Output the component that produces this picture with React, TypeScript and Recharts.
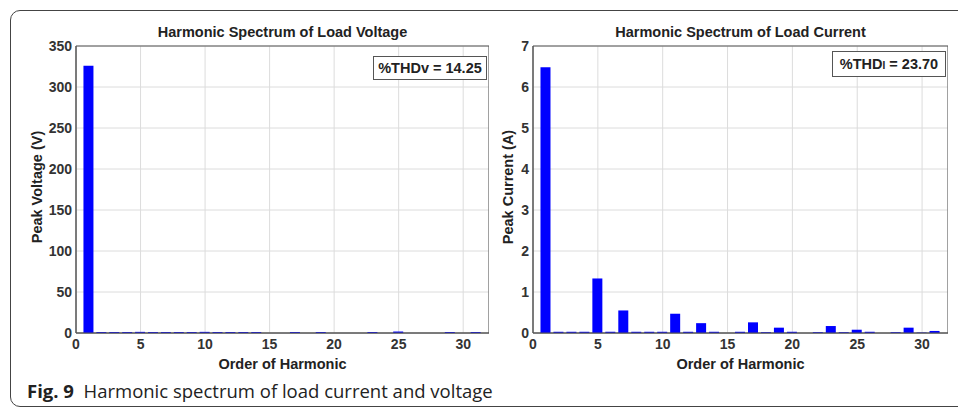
import React from "react";
import {
  BarChart,
  Bar,
  XAxis,
  YAxis,
  CartesianGrid,
  ReferenceArea,
} from "recharts";

// harmonic order 1..31
const harmonicOrders = [
  1, 2, 3, 4, 5, 6, 7, 8, 9, 10, 11, 12, 13, 14, 15, 16,
  17, 18, 19, 20, 21, 22, 23, 24, 25, 26, 27, 28, 29, 30, 31,
];

const voltagePeaks = [
  326, 1.2, 1.2, 1.2, 1.4, 1.2, 1.2, 1.2, 1.2, 1.4, 1.2, 1.2, 1.2, 1.2, 0, 0,
  1.2, 0, 1.2, 0, 0, 0, 1.2, 0, 1.8, 0, 0, 0, 1.2, 0, 1.2,
];

const currentPeaks = [
  6.48, 0.03, 0.03, 0.03, 1.33, 0.03, 0.55, 0.03, 0.03, 0.03, 0.47, 0.03, 0.24, 0.03, 0, 0.03,
  0.26, 0.02, 0.13, 0.03, 0, 0.02, 0.17, 0.02, 0.08, 0.03, 0, 0.02, 0.13, 0.01, 0.05,
];

const xTicks = [0, 5, 10, 15, 20, 25, 30];
const voltageTicks = [0, 50, 100, 150, 200, 250, 300, 350];
const currentTicks = [0, 1, 2, 3, 4, 5, 6, 7];

const voltageData = harmonicOrders.map((h, i) => ({ h, v: voltagePeaks[i] }));
const currentData = harmonicOrders.map((h, i) => ({ h, v: currentPeaks[i] }));

const FONT = "'Liberation Sans', Arial, sans-serif";
const tickStyle = { fontSize: 14, fill: "#333", fontWeight: 700, fontFamily: FONT };
const labelStyle: React.CSSProperties = {
  position: "absolute",
  fontFamily: FONT,
  fontWeight: 700,
  fontSize: 14.5,
  color: "#222",
  whiteSpace: "nowrap",
  textAlign: "center",
};

function Spectrum({
  data,
  ticks,
  yMax,
  left,
  width,
  axisWidth,
  yLabelX,
  title,
  yLabel,
  thd,
  boxStyle,
}: {
  data: { h: number; v: number }[];
  ticks: number[];
  yMax: number;
  left: number;
  width: number;
  axisWidth: number;
  yLabelX: number;
  title: string;
  yLabel: string;
  thd: React.ReactNode;
  boxStyle: React.CSSProperties;
}) {
  const plotW = width - axisWidth;
  return (
    <div style={{ position: "absolute", left, top: 0, width, height: 380 }}>
      <BarChart
        width={width}
        height={380}
        data={data}
        margin={{ top: 46, right: 0, left: 0, bottom: 17 }}
        barGap={0}
      >
        <CartesianGrid stroke="#dcdcdc" />
        <XAxis
          dataKey="h"
          type="number"
          domain={[0, 32]}
          ticks={xTicks}
          allowDataOverflow
          height={30}
          tick={tickStyle}
          tickLine={false}
          tickSize={4}
          tickMargin={2}
          stroke="#555"
        />
        <YAxis
          type="number"
          domain={[0, yMax]}
          ticks={ticks}
          width={axisWidth}
          tick={tickStyle}
          tickLine={false}
          tickSize={3}
          tickMargin={1}
          stroke="#555"
        />
        <ReferenceArea x1={0} x2={32} y1={0} y2={yMax} fill="none" stroke="#555" strokeOpacity={1} />
        <Bar dataKey="v" fill="#0000ff" barSize={10} isAnimationActive={false} />
      </BarChart>
      <div style={{ ...labelStyle, left: axisWidth, width: plotW, top: 24 }}>{title}</div>
      <div style={{ ...labelStyle, left: axisWidth, width: plotW, top: 356 }}>Order of Harmonic</div>
      <div
        style={{
          ...labelStyle,
          left: yLabelX - 100,
          top: 188 - 9,
          width: 200,
          transform: "rotate(-90deg)",
        }}
      >
        {yLabel}
      </div>
      <div
        style={{
          position: "absolute",
          border: "1px solid #555",
          background: "#fff",
          fontFamily: FONT,
          fontWeight: 700,
          fontSize: 14.5,
          color: "#222",
          boxSizing: "border-box",
          display: "flex",
          alignItems: "center",
          justifyContent: "center",
          whiteSpace: "nowrap",
          ...boxStyle,
        }}
      >
        {thd}
      </div>
    </div>
  );
}

export default function App() {
  return (
    <div
      style={{
        position: "absolute",
        left: 0,
        top: 0,
        width: 958,
        height: 410,
        background: "#fff",
        overflow: "hidden",
      }}
    >
      <div
        style={{
          position: "absolute",
          left: 10,
          top: 10,
          width: 980,
          height: 397,
          border: "1px solid #444",
          borderRadius: 10,
          boxSizing: "border-box",
        }}
      />
      <Spectrum
        data={voltageData}
        ticks={voltageTicks}
        yMax={350}
        left={0}
        width={489}
        axisWidth={76}
        yLabelX={37}
        title="Harmonic Spectrum of Load Voltage"
        yLabel="Peak Voltage (V)"
        thd="%THDv = 14.25"
        boxStyle={{ left: 373, top: 56, width: 114, height: 24 }}
      />
      <Spectrum
        data={currentData}
        ticks={currentTicks}
        yMax={7}
        left={481}
        width={467}
        axisWidth={52}
        yLabelX={27}
        title="Harmonic Spectrum of Load Current"
        yLabel="Peak Current (A)"
        thd={
          <span>
            %THD<span style={{ fontSize: 10 }}>I</span> = 23.70
          </span>
        }
        boxStyle={{ left: 351, top: 51, width: 114, height: 26 }}
      />
      <div
        style={{
          position: "absolute",
          left: 27,
          top: 378,
          fontFamily: "'Open Sans', sans-serif",
          fontSize: 18.5,
          color: "#222",
          whiteSpace: "nowrap",
        }}
      >
        <b>Fig. 9</b>&nbsp;&nbsp;Harmonic spectrum of load current and voltage
      </div>
    </div>
  );
}
